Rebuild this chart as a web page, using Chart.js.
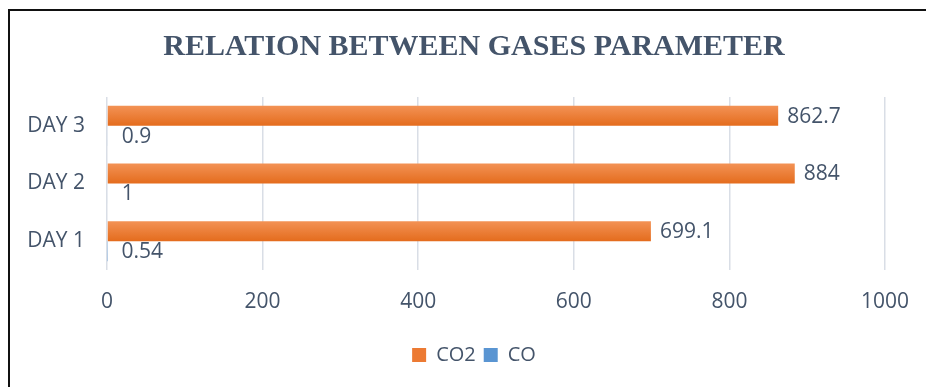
<!DOCTYPE html>
<html>
<head>
<meta charset="utf-8">
<script src="https://cdn.jsdelivr.net/npm/chart.js@4.4.1/dist/chart.umd.min.js"></script>
<style>
  html, body { margin: 0; padding: 0; background: #fff; overflow: hidden; width: 926px; height: 387px; }
  #frame {
    position: absolute; left: 8px; top: 9px;
    width: 928px; height: 376px;
    border-top: 2px solid #111; border-left: 2px solid #111;
  }
  canvas { display: block; }
</style>
</head>
<body>
<div id="frame"><canvas id="chart" width="928" height="376"></canvas></div>
<script>
// Gas readings per day
const categories = ['DAY 1', 'DAY 2', 'DAY 3'];
const co2Values = [699.1, 884, 862.7];
const coValues = [0.54, 1, 0.9];
const xTicks = [0, 200, 400, 600, 800, 1000];

const TEXT = '#44546A';
const SANS = "'Open Sans', 'Noto Sans', sans-serif";
const CAT_PCT = 0.694;

// vertical gradient for each bar, following its slot in the category band
function barGradient(top, bottom) {
  return function (ctx) {
    const chart = ctx.chart;
    const y = chart.scales && chart.scales.y;
    if (!y || ctx.dataIndex === undefined) return bottom;
    const center = y.getPixelForValue(ctx.dataIndex);
    const band = y.height / categories.length;
    const size = band * CAT_PCT / 2;
    const y0 = center - size + ctx.datasetIndex * size;
    const g = chart.ctx.createLinearGradient(0, y0, 0, y0 + size);
    g.addColorStop(0, top);
    g.addColorStop(1, bottom);
    return g;
  };
}

// value labels placed just past the end of each bar
const valueLabels = {
  id: 'valueLabels',
  afterDatasetsDraw(chart) {
    const ctx = chart.ctx;
    ctx.save();
    ctx.font = `21px ${SANS}`;
    ctx.fillStyle = TEXT;
    ctx.textBaseline = 'middle';
    ctx.textAlign = 'left';
    chart.data.datasets.forEach((ds, di) => {
      const meta = chart.getDatasetMeta(di);
      const offset = di === 0 ? 9 : 14;
      meta.data.forEach((el, i) => {
        ctx.fillText(String(ds.data[i]), el.x + offset, el.y + 1);
      });
    });
    ctx.restore();
  }
};

new Chart(document.getElementById('chart'), {
  type: 'bar',
  data: {
    labels: categories,
    datasets: [
      {
        label: 'CO2',
        data: co2Values,
        backgroundColor: barGradient('#F39255', '#E46C1D'),
        borderWidth: 0,
        categoryPercentage: CAT_PCT,
        barPercentage: 1
      },
      {
        label: 'CO',
        data: coValues,
        backgroundColor: barGradient('#72A9DD', '#3F80C4'),
        borderWidth: 0,
        categoryPercentage: CAT_PCT,
        barPercentage: 1
      }
    ]
  },
  options: {
    indexAxis: 'y',
    responsive: false,
    animation: false,
    layout: { padding: { left: 0, right: 0, top: 0, bottom: 12 } },
    scales: {
      x: {
        min: 0,
        max: 1000,
        afterBuildTicks(scale) { scale.ticks = xTicks.map(v => ({ value: v })); },
        grid: { color: '#D9DEE6', lineWidth: 1.5, drawTicks: false },
        border: { display: false },
        ticks: {
          color: TEXT,
          font: { family: SANS, size: 21 },
          padding: 19,
          callback: v => String(v)
        },
        afterFit(scale) { scale.height = 67; }
      },
      y: {
        reverse: true,
        grid: { display: false, drawTicks: false },
        border: { display: false },
        ticks: { color: TEXT, font: { family: SANS, size: 21 }, padding: 22 },
        afterFit(scale) { scale.width = 97; }
      },
      // empty right-hand margin beside the plot
      yRight: {
        type: 'linear',
        axis: 'y',
        position: 'right',
        grid: { display: false, drawTicks: false },
        border: { display: false },
        ticks: { display: false },
        afterFit(scale) { scale.width = 53; }
      }
    },
    plugins: {
      title: {
        display: true,
        text: 'RELATION BETWEEN GASES PARAMETER',
        color: TEXT,
        font: { family: "'Liberation Serif', 'Times New Roman', serif", size: 30, weight: 'bold' },
        padding: { top: 18, bottom: 32 }
      },
      legend: {
        position: 'bottom',
        labels: {
          color: TEXT,
          font: { family: SANS, size: 20 },
          boxWidth: 14,
          boxHeight: 14,
          padding: 8,
          generateLabels(chart) {
            const fills = ['#EC7A33', '#5A95D2'];
            return chart.data.datasets.map((ds, i) => ({
              text: ds.label,
              fillStyle: fills[i],
              strokeStyle: fills[i],
              lineWidth: 0,
              fontColor: TEXT,
              datasetIndex: i,
              hidden: false
            }));
          }
        }
      },
      tooltip: { enabled: false }
    }
  },
  plugins: [valueLabels]
});
</script>
</body>
</html>
